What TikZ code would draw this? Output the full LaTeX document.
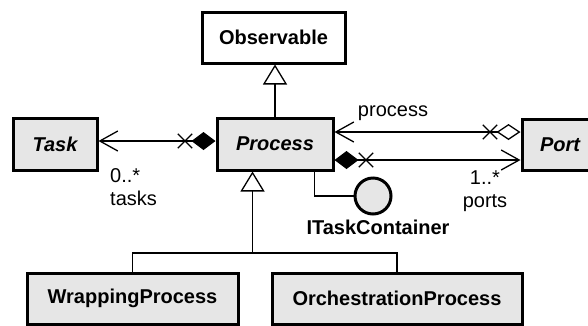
\documentclass[tikz,border=0pt]{standalone}
\usepackage{fontspec}
\setmainfont{Liberation Sans}
\usetikzlibrary{arrows.meta,shapes.misc}
\definecolor{boxgray}{HTML}{E6E6E6}
\tikzset{
  vtip/.tip={Straight Barb[length=18pt, width=20pt]},
  fdia/.tip={Diamond[length=24pt, width=18pt]},
  odia/.tip={Diamond[open, length=24pt, width=16pt]},
  gtri/.tip={Triangle[open, length=20pt, width=24pt]}
}
\begin{document}
\begin{tikzpicture}[x=1pt,y=-1pt,
  cls/.style={draw, line width=3pt, fill=boxgray, font=\fontsize{20}{23}\selectfont\bfseries, inner sep=0pt},
  conn/.style={line width=1.3pt},
  lbl/.style={font=\fontsize{20}{23}\selectfont, inner sep=0pt},
  xmark/.style={cross out, draw, line width=1.3pt, minimum size=13pt, inner sep=0pt},
  gen/.style={conn, -gtri}
]
\useasboundingbox (0,0) rectangle (588,325);
\fill[white] (0,0) rectangle (588,325);

% classes
\node[cls, fill=white, minimum width=143pt, minimum height=51pt] (obs) at (273.5,37.5) {Observable};
\node[cls, minimum width=84pt, minimum height=52pt] (task) at (55,144) {\itshape Task};
\node[cls, minimum width=116pt, minimum height=52pt] (proc) at (275,144) {\itshape Process};
\node[cls, minimum width=76pt, minimum height=51pt] (port) at (560,144.5) {\itshape Port};
\node[cls, minimum width=211pt, minimum height=51pt] (wrap) at (132.5,298.5) {WrappingProcess};
\node[cls, minimum width=250pt, minimum height=51pt] (orch) at (397,298.5) {OrchestrationProcess};

% interface
\node[circle, draw, line width=3pt, fill=boxgray, minimum size=36pt, inner sep=0pt] (itc) at (373,196) {};
\node[lbl, font=\fontsize{20}{23}\selectfont\bfseries] (itclbl) at (378,227) {ITaskContainer};
\draw[conn] ([xshift=-20pt]proc.south east) |- (itc.west);

% generalizations
\draw[gen] (proc.north) -- (proc.north |- obs.south);
\coordinate (gj) at (252.5,253);
\draw[gen] (gj) -- (gj |- proc.south);
\draw[conn] (wrap.north) -- (wrap.north |- gj) -- (orch.north |- gj) -- (orch.north);

% associations
\draw[conn, fdia-vtip] ([yshift=3pt]proc.west) -- ([yshift=3pt]proc.west -| task.east);
\node[xmark] (x1) at (185,141) {};
\draw[conn, vtip-odia] ([yshift=12pt]proc.east) -- ([yshift=12pt]proc.east -| port.west);
\node[xmark] (x2) at (490,132) {};
\draw[conn, fdia-vtip] ([yshift=-16pt]proc.east) -- ([yshift=-16pt]proc.east -| port.west);
\node[xmark] (x3) at (366,160) {};

% labels
\node[lbl] (lproc) at (393,113) {process};
\node[lbl, align=left, anchor=west] (ltasks) at (110,187) {0..*\\tasks};
\node[lbl, align=center] (lports) at (485,191) {1..*\\ports};
\end{tikzpicture}
\end{document}
